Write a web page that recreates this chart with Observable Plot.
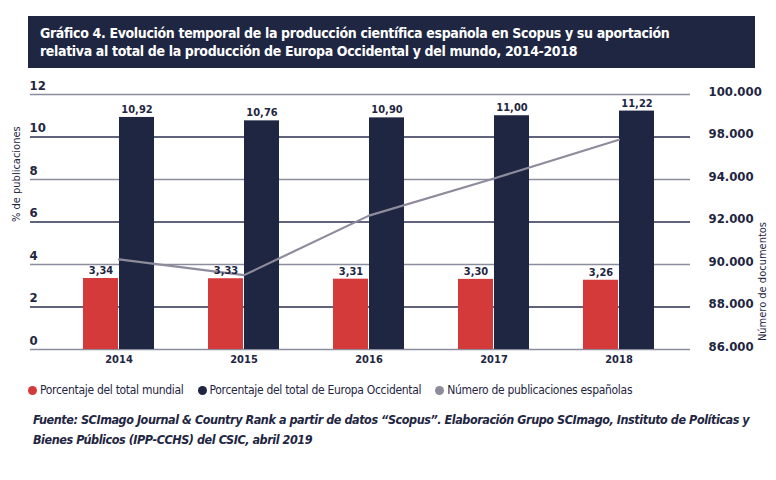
<!DOCTYPE html>
<html><head><meta charset="utf-8">
<script src="https://cdn.jsdelivr.net/npm/d3@7"></script>
<script src="https://cdn.jsdelivr.net/npm/@observablehq/plot@0.6"></script>
<style>
body{margin:0;background:#fff;font-family:"DejaVu Sans Condensed","DejaVu Sans",sans-serif;font-stretch:condensed;color:#1f2642;}
svg text{font-stretch:condensed;}
#wrap{position:relative;width:776px;height:480px;}
#title{position:absolute;left:28px;top:16px;width:703px;height:36px;padding:8px 12px;background:#1f2642;color:#fff;font-weight:bold;font-size:14px;line-height:18px;letter-spacing:-0.35px;}
#chart{position:absolute;left:0;top:70px;}
#legend{position:absolute;left:28px;top:383px;font-size:12px;display:flex;gap:0;letter-spacing:-0.3px;}
#legend span{display:inline-flex;align-items:center;margin-right:14px;}
#legend i{display:inline-block;width:9px;height:9px;border-radius:50%;margin-right:3px;}
#caption{position:absolute;left:33px;top:410px;white-space:nowrap;font-weight:bold;font-style:italic;font-size:12.5px;line-height:19.5px;color:#1f2642;letter-spacing:-0.45px;}
</style></head>
<body><div id="wrap">
<div id="title">Gráfico 4. Evolución temporal de la producción científica española en Scopus y su aportación<br>relativa al total de la producción de Europa Occidental y del mundo, 2014-2018</div>
<div id="chart"></div>
<div id="legend"></div>
<div id="caption">Fuente: SCImago Journal &amp; Country Rank a partir de datos “Scopus”. Elaboración Grupo SCImago, Instituto de Políticas y<br>Bienes Públicos (IPP-CCHS) del CSIC, abril 2019</div>
</div>
<script>
const years = ["2014","2015","2016","2017","2018"];
const pctWorld = [3.34, 3.33, 3.31, 3.30, 3.26];
const pctWestEurope = [10.92, 10.76, 10.90, 11.00, 11.22];
const docsSpain = [90240, 89500, 92300, 94050, 95870];
const leftTicks = [0, 2, 4, 6, 8, 10, 12];
const rightTickLabels = ["86.000", "88.000", "90.000", "92.000", "94.000", "98.000", "100.000"];
const docsBase = 86000;
const docsPerUnit = 1000;
const seriesNames = ["Porcentaje del total mundial", "Porcentaje del total de Europa Occidental", "Número de publicaciones españolas"];
const seriesColors = ["#d43a3a", "#1f2642", "#8e8c9c"];

const rows = years.map((y, i) => ({year: y, world: pctWorld[i], west: pctWestEurope[i], docs: docsSpain[i]}));
const fmt = v => v.toFixed(2).replace(".", ",");
const font = '"DejaVu Sans Condensed","DejaVu Sans",sans-serif';

const chart = Plot.plot({
  width: 776,
  height: 300,
  marginTop: 24,
  marginBottom: 21,
  marginLeft: 54,
  marginRight: 94,
  style: {fontFamily: font, color: "#1f2642", background: "transparent"},
  x: {domain: years, padding: 0, axis: null},
  y: {domain: [0, 12], axis: null},
  marks: [
    Plot.ruleY(leftTicks, {y: d => d, stroke: (d, i) => i % 2 === 0 ? "#8a8d9e" : "#2a3050", strokeWidth: 1.5, insetLeft: -24, insetRight: -8}),
    Plot.barY(rows, {x: "year", y: "world", fill: seriesColors[0], insetLeft: 27, insetRight: 63}),
    Plot.barY(rows, {x: "year", y: "west", fill: seriesColors[1], insetLeft: 63, insetRight: 27}),
    Plot.line(rows, {x: "year", y: d => (d.docs - docsBase) / docsPerUnit, stroke: seriesColors[2], strokeWidth: 2.2}),
    Plot.text(rows, {x: "year", y: "world", text: d => fmt(d.world), dx: -18, dy: -8, fontSize: 11, fontWeight: "bold", fill: "#1f2642"}),
    Plot.text(rows, {x: "year", y: "west", text: d => fmt(d.west), dx: 18, dy: -8, fontSize: 11, fontWeight: "bold", fill: "#1f2642"}),
    Plot.text(years, {x: d => d, text: d => d, frameAnchor: "bottom", dy: 13, fontSize: 11, fontWeight: "bold", fill: "#1f2642"}),
    Plot.text(leftTicks, {y: d => d, text: d => String(d), frameAnchor: "left", dx: -25, dy: -9, textAnchor: "start", fontSize: 13, fontWeight: "bold", fill: "#1f2642"}),
    Plot.text(leftTicks, {y: d => d, text: (d, i) => rightTickLabels[i], frameAnchor: "right", dx: 26, dy: -3, textAnchor: "start", fontSize: 13, fontWeight: "bold", fill: "#1f2642"}),
    Plot.text(["% de publicaciones"], {text: d => d, frameAnchor: "left", dx: -38, rotate: -90, fontSize: 11, fill: "#1f2642"}),
    Plot.text(["Número de documentos"], {text: d => d, frameAnchor: "right", dx: 80, rotate: -90, fontSize: 11, fill: "#1f2642"})
  ]
});
document.getElementById("chart").appendChild(chart);

const legend = document.getElementById("legend");
seriesNames.forEach((n, i) => {
  const s = document.createElement("span");
  s.innerHTML = `<i style="background:${seriesColors[i]}"></i>${n}`;
  legend.appendChild(s);
});
</script>
</body></html>
